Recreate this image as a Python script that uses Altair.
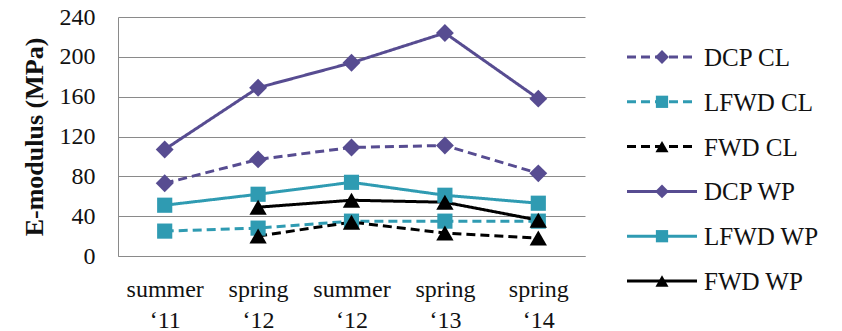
import altair as alt
import pandas as pd

# Survey periods (label lines split on "|")
periods = ["summer|‘11", "spring|‘12", "summer|‘12", "spring|‘13", "spring|‘14"]

# Stiffness moduli in MPa per device and location (None = not measured)
dcp_cl = [73, 97, 109, 111, 83]
lfwd_cl = [25, 28, 35, 35, 35]
fwd_cl = [None, 20, 34, 23, 18]
dcp_wp = [107, 169, 194, 224, 158]
lfwd_wp = [51, 62, 74, 61, 53]
fwd_wp = [None, 49, 56, 54, 36]

series_names = ["DCP CL", "LFWD CL", "FWD CL", "DCP WP", "LFWD WP", "FWD WP"]
series_values = [dcp_cl, lfwd_cl, fwd_cl, dcp_wp, lfwd_wp, fwd_wp]

rows = []
for name, vals in zip(series_names, series_values):
    for p, v in zip(periods, vals):
        if v is not None:
            rows.append({"series": name, "period": p, "value": v})
df = pd.DataFrame(rows)
key_df = pd.DataFrame({"series": series_names})

purple = "#574c91"
teal = "#2f9bb2"
black = "#000000"
colors = [purple, teal, black, purple, teal, black]
dash = [9, 5]
solid = [1, 0]
dashes = [dash, dash, dash, solid, solid, solid]

# Marker per device: (device prefix, vega shape, area in plot, area in key)
markers = [
    ("DCP", "diamond", 320, 190),
    ("LFWD", "square", 230, 150),
    ("FWD", "triangle-up", 300, 170),
]

font = "Liberation Serif"

x_enc = alt.X(
    "period:N",
    sort=periods,
    title=None,
    axis=alt.Axis(
        labelExpr="split(datum.label, '|')",
        labelAngle=0,
        labelFont=font,
        labelFontSize=24,
        labelColor="#111111",
        labelLineHeight=31,
        labelPadding=21,
        labelBaseline="top",
        ticks=False,
        domain=True,
        domainColor="#8a8a8a",
        grid=False,
    ),
)
y_enc = alt.Y(
    "value:Q",
    title="E-modulus (MPa)",
    scale=alt.Scale(domain=[0, 240], nice=False),
    axis=alt.Axis(
        values=[0, 40, 80, 120, 160, 200, 240],
        labelOverlap=False,
        labelFont=font,
        labelFontSize=24,
        labelColor="#111111",
        labelPadding=23,
        ticks=False,
        domain=True,
        domainColor="#8a8a8a",
        gridColor="#8a8a8a",
        gridWidth=1,
        titleFont=font,
        titleFontSize=26,
        titleFontWeight="bold",
        titleColor="#111111",
        titlePadding=12,
    ),
)

color_enc = alt.Color(
    "series:N", scale=alt.Scale(domain=series_names, range=colors), legend=None
)
dash_enc = alt.StrokeDash(
    "series:N", scale=alt.Scale(domain=series_names, range=dashes), legend=None
)

lines = alt.Chart(df).mark_line(strokeWidth=3).encode(
    x=x_enc,
    y=y_enc,
    color=color_enc,
    strokeDash=dash_enc,
    detail="series:N",
)


def device_filter(prefix):
    return f"split(datum.series, ' ')[0] == '{prefix}'"


point_layers = [
    alt.Chart(df)
    .transform_filter(device_filter(prefix))
    .mark_point(filled=True, opacity=1, shape=shape, size=area)
    .encode(x=x_enc, y=y_enc, color=color_enc)
    for prefix, shape, area, _ in markers
]

main = alt.layer(lines, *point_layers)

# Key on the right: one row per series, laid out by its own point scale
key_y = alt.Y(
    "series:N",
    sort=series_names,
    scale=alt.Scale(domain=series_names, range=[17.6, 286.4]),
    axis=None,
)

key_lines = alt.Chart(key_df).mark_rule(strokeWidth=3).encode(
    x=alt.value(509),
    x2=alt.value(579),
    y=key_y,
    color=color_enc,
    strokeDash=dash_enc,
)

key_points = [
    alt.Chart(key_df)
    .transform_filter(device_filter(prefix))
    .mark_point(filled=True, opacity=1, shape=shape, size=key_area)
    .encode(x=alt.value(544), y=key_y, color=color_enc)
    for prefix, shape, _, key_area in markers
]

key_labels = alt.Chart(key_df).mark_text(
    align="left",
    baseline="middle",
    font=font,
    fontSize=25,
    color="#111111",
    dy=1,
).encode(x=alt.value(586), y=key_y, text="series:N")

key = alt.layer(key_lines, *key_points, key_labels)

chart = (
    alt.layer(main, key)
    .resolve_scale(y="independent")
    .properties(
        width=467,
        height=239,
        autosize=alt.AutoSizeParams(type="none"),
        padding={"left": 118, "top": 17, "right": 257, "bottom": 75},
        background="white",
    )
    .configure_view(stroke=None)
    .configure_axis(labelFont=font, titleFont=font)
)

chart.save("out.html", embed_options={"renderer": "svg", "actions": False})
